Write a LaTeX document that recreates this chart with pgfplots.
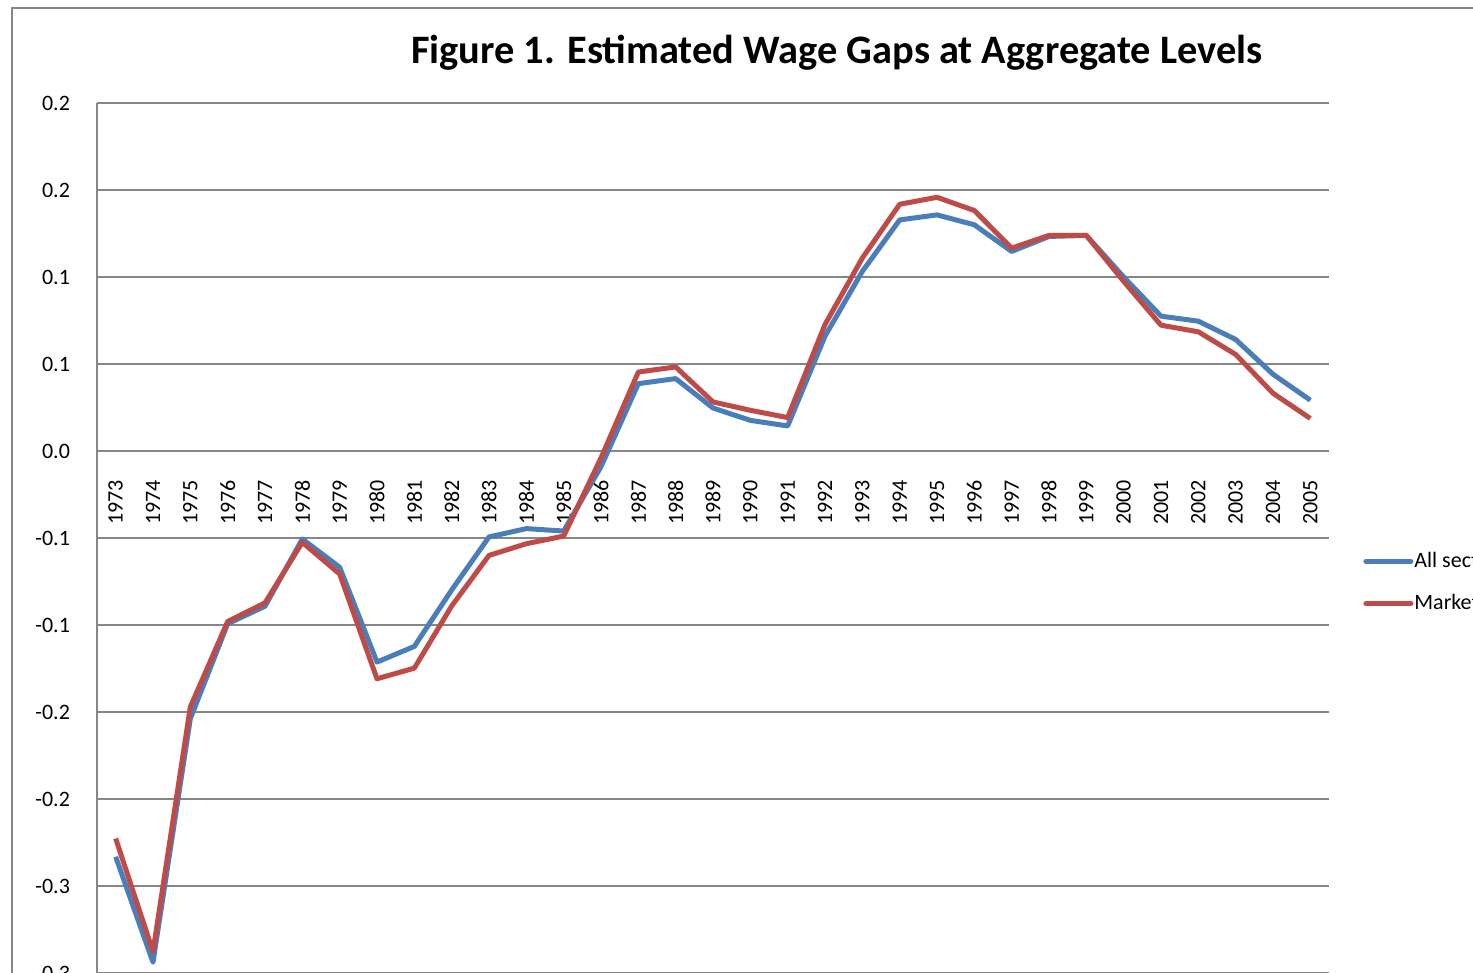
\documentclass[border=0pt]{standalone}
\usepackage{fontspec}
\setmainfont{Carlito}
\usepackage{pgfplots}
\usepackage{pgfplotstable}
\pgfplotsset{compat=1.18}
\definecolor{gridgray}{RGB}{134,134,134}
\definecolor{xlblue}{RGB}{74,126,187}
\definecolor{xlred}{RGB}{190,75,72}

\pgfplotstableread{
year all market
1973 -0.2332 -0.2227
1974 -0.2938 -0.2877
1975 -0.1538 -0.1471
1976 -0.0993 -0.0980
1977 -0.0892 -0.0873
1978 -0.0506 -0.0525
1979 -0.0668 -0.0707
1980 -0.1213 -0.1309
1981 -0.1123 -0.1248
1982 -0.0799 -0.0891
1983 -0.0494 -0.0600
1984 -0.0446 -0.0533
1985 -0.0460 -0.0489
1986 -0.0090 -0.0040
1987 0.0387 0.0454
1988 0.0416 0.0483
1989 0.0247 0.0282
1990 0.0176 0.0234
1991 0.0144 0.0192
1992 0.0660 0.0727
1993 0.1032 0.1109
1994 0.1328 0.1418
1995 0.1357 0.1458
1996 0.1300 0.1382
1997 0.1147 0.1166
1998 0.1233 0.1239
1999 0.1239 0.1239
2000 0.1000 0.0975
2001 0.0775 0.0723
2002 0.0746 0.0685
2003 0.0641 0.0555
2004 0.0441 0.0332
2005 0.0292 0.0187
}\gaps

\begin{document}
\begin{tikzpicture}
\path[use as bounding box] (0pt,0pt) rectangle (736.5pt,-486.5pt);
\clip (0pt,0pt) rectangle (736.5pt,-486.5pt);
\draw[gridgray, line width=1pt] (6pt,-490pt) -- (6pt,-4pt) -- (740pt,-4pt);
\node[font=\bfseries\fontsize{20.2}{24}\selectfont, anchor=base, inner sep=0pt] at (418.5pt,-32pt) {Figure 1. Estimated Wage Gaps at Aggregate Levels};
\begin{axis}[
  at={(48.5pt,-51.5pt)}, anchor=north west,
  scale only axis, width=616pt, height=478.5pt,
  xmin=1972.5, xmax=2005.5, ymin=-0.35, ymax=0.2,
  axis x line=middle, axis y line=left,
  axis line style={gridgray, line width=1pt, -},
  hide obscured x ticks=false, hide obscured y ticks=false,
  xtick={1973,1974,1975,1976,1977,1978,1979,1980,1981,1982,1983,1984,1985,1986,1987,1988,1989,1990,1991,1992,1993,1994,1995,1996,1997,1998,1999,2000,2001,2002,2003,2004,2005},
  xticklabels={1973,1974,1975,1976,1977,1978,1979,1980,1981,1982,1983,1984,1985,1986,1987,1988,1989,1990,1991,1992,1993,1994,1995,1996,1997,1998,1999,2000,2001,2002,2003,2004,2005},
  ytick={-0.35,-0.3,-0.25,-0.2,-0.15,-0.1,-0.05,0,0.05,0.1,0.15,0.2},
  yticklabels={-0.4,-0.3,-0.3,-0.2,-0.2,-0.1,-0.1,0.0,0.1,0.1,0.2,0.2},
  major tick length=0pt,
  ymajorgrids, grid style={gridgray, line width=1pt},
  tick label style={font=\fontsize{11}{13}\selectfont},
  xticklabel style={yshift=-11pt, rotate=90, anchor=east},
  yticklabel style={anchor=east, xshift=-10pt},
  legend style={draw=none, fill=none, at={(1.0276,0.499)}, anchor=west,
    font=\fontsize{11}{13}\selectfont, row sep=11pt, inner sep=0pt,
    nodes={inner sep=0.5pt}},
  legend cell align=left,
  legend image code/.code={\draw[#1, line cap=round] (0pt,0pt) -- (22.5pt,0pt);},
]
\addplot[xlblue, line width=2.5pt, line join=round] table[x=year, y=all] {\gaps};
\addlegendentry{All sectors}
\addplot[xlred, line width=2.5pt, line join=round] table[x=year, y=market] {\gaps};
\addlegendentry{Market sector}
\end{axis}
\end{tikzpicture}
\end{document}
